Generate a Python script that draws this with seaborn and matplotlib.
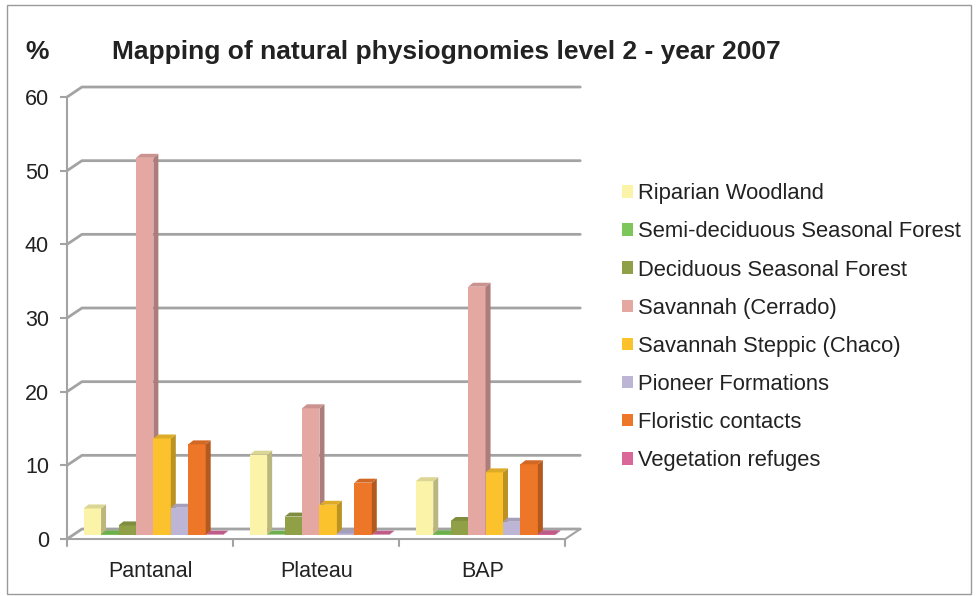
import numpy as np
import pandas as pd
import seaborn as sns
import matplotlib.pyplot as plt
from matplotlib.patches import Polygon, Rectangle
from matplotlib.colors import to_rgb

regions = ["Pantanal", "Plateau", "BAP"]
classes = [
    "Riparian Woodland",
    "Semi-deciduous Seasonal Forest",
    "Deciduous Seasonal Forest",
    "Savannah (Cerrado)",
    "Savannah Steppic (Chaco)",
    "Pioneer Formations",
    "Floristic contacts",
    "Vegetation refuges",
]
colors = ["#FAF3A8", "#7CC65A", "#8FA047", "#E5A7A2",
          "#FBC22E", "#BDB5D5", "#EE7628", "#D9679A"]

pantanal = [3.6, 0.1, 1.3, 51.2, 13.1, 3.7, 12.3, 0.05]
plateau = [10.9, 0.05, 2.5, 17.2, 4.1, 0.2, 7.1, 0.05]
bap = [7.3, 0.1, 1.9, 33.7, 8.5, 1.8, 9.6, 0.1]

df = pd.DataFrame({
    "region": np.repeat(regions, len(classes)),
    "cls": classes * len(regions),
    "pct": pantanal + plateau + bap,
})

sns.set_style("white")
plt.rcParams["font.family"] = ["Liberation Sans", "DejaVu Sans"]

fig = plt.figure(figsize=(9.77, 5.96), dpi=100)
ax = fig.add_axes([0.0686, 0.0956, 0.527, 0.7416])

sns.barplot(data=df, x="region", y="pct", hue="cls", hue_order=classes,
            palette=colors, width=0.84, ax=ax, linewidth=0, saturation=1,
            legend=True)

ax.set_ylim(0, 60)
ax.set_xlim(-0.5, 2.6)
ax.set_yticks(range(0, 61, 10))

grid_c = "#A3A3A3"
# back wall offset of the pseudo 3d box
bx, by = 0.09, 1.36
# bar depth, bars sit half way into the floor
dx, dy = 0.03, 0.54
base = 0.55
shift = 0.02

for p in ax.patches:
    x0, w, h = p.get_x(), p.get_width(), p.get_height()
    if w == 0:
        continue
    x0 += shift
    z = 3 + (x0 + 1) * 0.1
    p.set_x(x0)
    p.set_y(base)
    p.set_zorder(z)
    c = np.array(to_rgb(p.get_facecolor()))
    top_y = base + h
    side = Polygon([(x0 + w, base), (x0 + w + dx, base + dy),
                    (x0 + w + dx, top_y + dy), (x0 + w, top_y)],
                   closed=True, facecolor=c * 0.75, edgecolor="none",
                   zorder=z, clip_on=False)
    top = Polygon([(x0, top_y), (x0 + dx, top_y + dy),
                   (x0 + w + dx, top_y + dy), (x0 + w, top_y)],
                  closed=True, facecolor=c * 0.88, edgecolor="none",
                  zorder=z, clip_on=False)
    ax.add_patch(side)
    ax.add_patch(top)

# back wall gridlines with the little diagonals on the left
for v in range(0, 61, 10):
    ax.plot([-0.5, -0.5 + bx, 2.5 + bx], [v, v + by, v + by],
            color=grid_c, lw=2, zorder=1, clip_on=False)
# floor
ax.plot([-0.5, 2.5, 2.5 + bx], [0, 0, by], color=grid_c, lw=1.5,
        zorder=1, clip_on=False)
for xt in [-0.5, 0.5, 1.5, 2.5]:
    ax.plot([xt, xt], [0, -0.9], color=grid_c, lw=1.5, clip_on=False)

for s in ["top", "right", "bottom"]:
    ax.spines[s].set_visible(False)
ax.spines["left"].set_color(grid_c)
ax.spines["left"].set_linewidth(1.5)
ax.tick_params(axis="y", left=True, length=5, width=1.5, color=grid_c,
               labelsize=15.5, labelcolor="#222222", pad=8)
ax.tick_params(axis="x", bottom=False, labelsize=15.5, labelcolor="#222222",
               pad=12)
ax.set_xlabel("")
ax.set_ylabel("")

handles, labels = ax.get_legend_handles_labels()
ax.get_legend().remove()
fig.legend(handles, labels, loc="center left",
           bbox_to_anchor=(0.637, 0.451), frameon=False, fontsize=15.8,
           handlelength=0.5, handleheight=0.5, handletextpad=0.22,
           labelspacing=0.78, borderpad=0, borderaxespad=0,
           labelcolor="#222222")

fig.text(0.026, 0.913, "%", fontsize=19, fontweight="bold", color="#222222",
         va="center")
fig.text(0.1145, 0.913, "Mapping of natural physiognomies level 2 - year 2007",
         fontsize=19, fontweight="bold", color="#222222", va="center")

fig.patches.append(Rectangle((0.007, 0.003), 0.987, 0.989,
                             transform=fig.transFigure, fill=False,
                             edgecolor="#9A9A9A", lw=1))

fig.savefig("out.png", dpi=100)
